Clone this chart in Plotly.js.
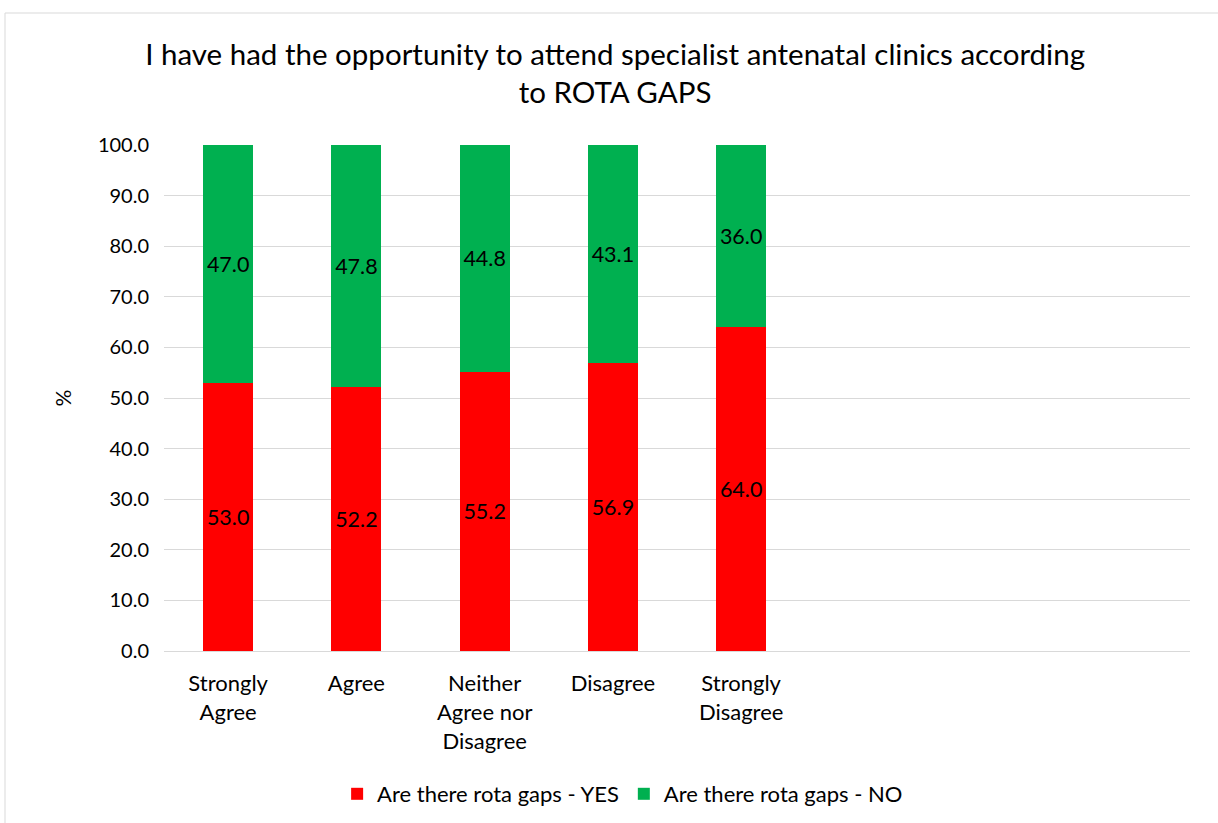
<!DOCTYPE html>
<html>
<head>
<meta charset="utf-8">
<script src="https://cdn.plot.ly/plotly-3.0.1.min.js"></script>
<style>
html,body{margin:0;padding:0;background:#fff;}
#chart{width:1218px;height:823px;}
</style>
</head>
<body>
<div id="chart"></div>
<script>
const categories = ["Strongly<br>Agree", "Agree", "Neither<br>Agree nor<br>Disagree", "Disagree", "Strongly<br>Disagree"];
const yesValues = [53.0, 52.2, 55.2, 56.9, 64.0];
const noValues = [47.0, 47.8, 44.8, 43.1, 36.0];
const seriesNames = ["Are there rota gaps - YES", "Are there rota gaps - NO"];
const yTicks = [0, 10, 20, 30, 40, 50, 60, 70, 80, 90, 100];

const FONT = "Lato, Noto Sans, sans-serif";
const xPos = categories.map((c, i) => i);

const traces = [
  {
    type: "bar", name: seriesNames[0], x: xPos, y: yesValues,
    marker: {color: "#ff0000"},
    text: yesValues.map(v => v.toFixed(1)), textposition: "inside",
    insidetextanchor: "middle", textangle: 0,
    textfont: {family: FONT, size: 21.5, color: "#000"},
    width: 0.39, hoverinfo: "y"
  },
  {
    type: "bar", name: seriesNames[1], x: xPos, y: noValues,
    marker: {color: "#00b050"},
    text: noValues.map(v => v.toFixed(1)), textposition: "inside",
    insidetextanchor: "middle", textangle: 0,
    textfont: {family: FONT, size: 21.5, color: "#000"},
    width: 0.39, hoverinfo: "y"
  }
];

const layout = {
  width: 1218, height: 823,
  barmode: "stack",
  paper_bgcolor: "#fff", plot_bgcolor: "#fff",
  margin: {l: 164, r: 28, t: 145, b: 172},
  font: {family: FONT, size: 20, color: "#000"},
  title: {
    text: "I have had the opportunity to attend specialist antenatal clinics according<br>to ROTA GAPS",
    font: {family: FONT, size: 29.5, color: "#000"},
    x: 0.505, xanchor: "center", y: 0.921, yanchor: "middle"
  },
  xaxis: {
    range: [-0.5, 7.5], tickvals: xPos, ticktext: categories,
    showgrid: false, zeroline: false, showline: true, linecolor: "#d9d9d9", linewidth: 1,
    ticks: "outside", ticklen: 13, tickcolor: "rgba(0,0,0,0)", automargin: false,
    tickfont: {family: FONT, size: 22, color: "#000"}, fixedrange: true
  },
  yaxis: {
    range: [0, 100], tickvals: yTicks, ticktext: yTicks.map(v => v.toFixed(1)),
    showgrid: true, gridcolor: "#d9d9d9", gridwidth: 1, zeroline: false,
    ticks: "outside", ticklen: 10, tickcolor: "rgba(0,0,0,0)", automargin: false,
    tickfont: {family: FONT, size: 20, color: "#000"},
    title: {text: "%", font: {family: FONT, size: 21, color: "#000"}, standoff: 20},
    fixedrange: true
  },
  showlegend: true,
  legend: {
    orientation: "h", xref: "paper", x: 0.447, xanchor: "center",
    yref: "container", y: (823 - 794) / 823, yanchor: "middle",
    font: {family: FONT, size: 22, color: "#000"}, traceorder: "normal",
    itemwidth: 30, tracegroupgap: 0
  },
  shapes: [{
    type: "rect", xref: "paper", yref: "paper",
    x0: (5 - 164) / 1026, x1: 1.2, y0: -0.5, y1: (651 - 13) / 506,
    line: {color: "#d9d9d9", width: 1}, fillcolor: "rgba(0,0,0,0)", layer: "below"
  }],
  bargap: 0.61
};

Plotly.newPlot("chart", traces, layout, {displayModeBar: false, staticPlot: true});
</script>
</body>
</html>
